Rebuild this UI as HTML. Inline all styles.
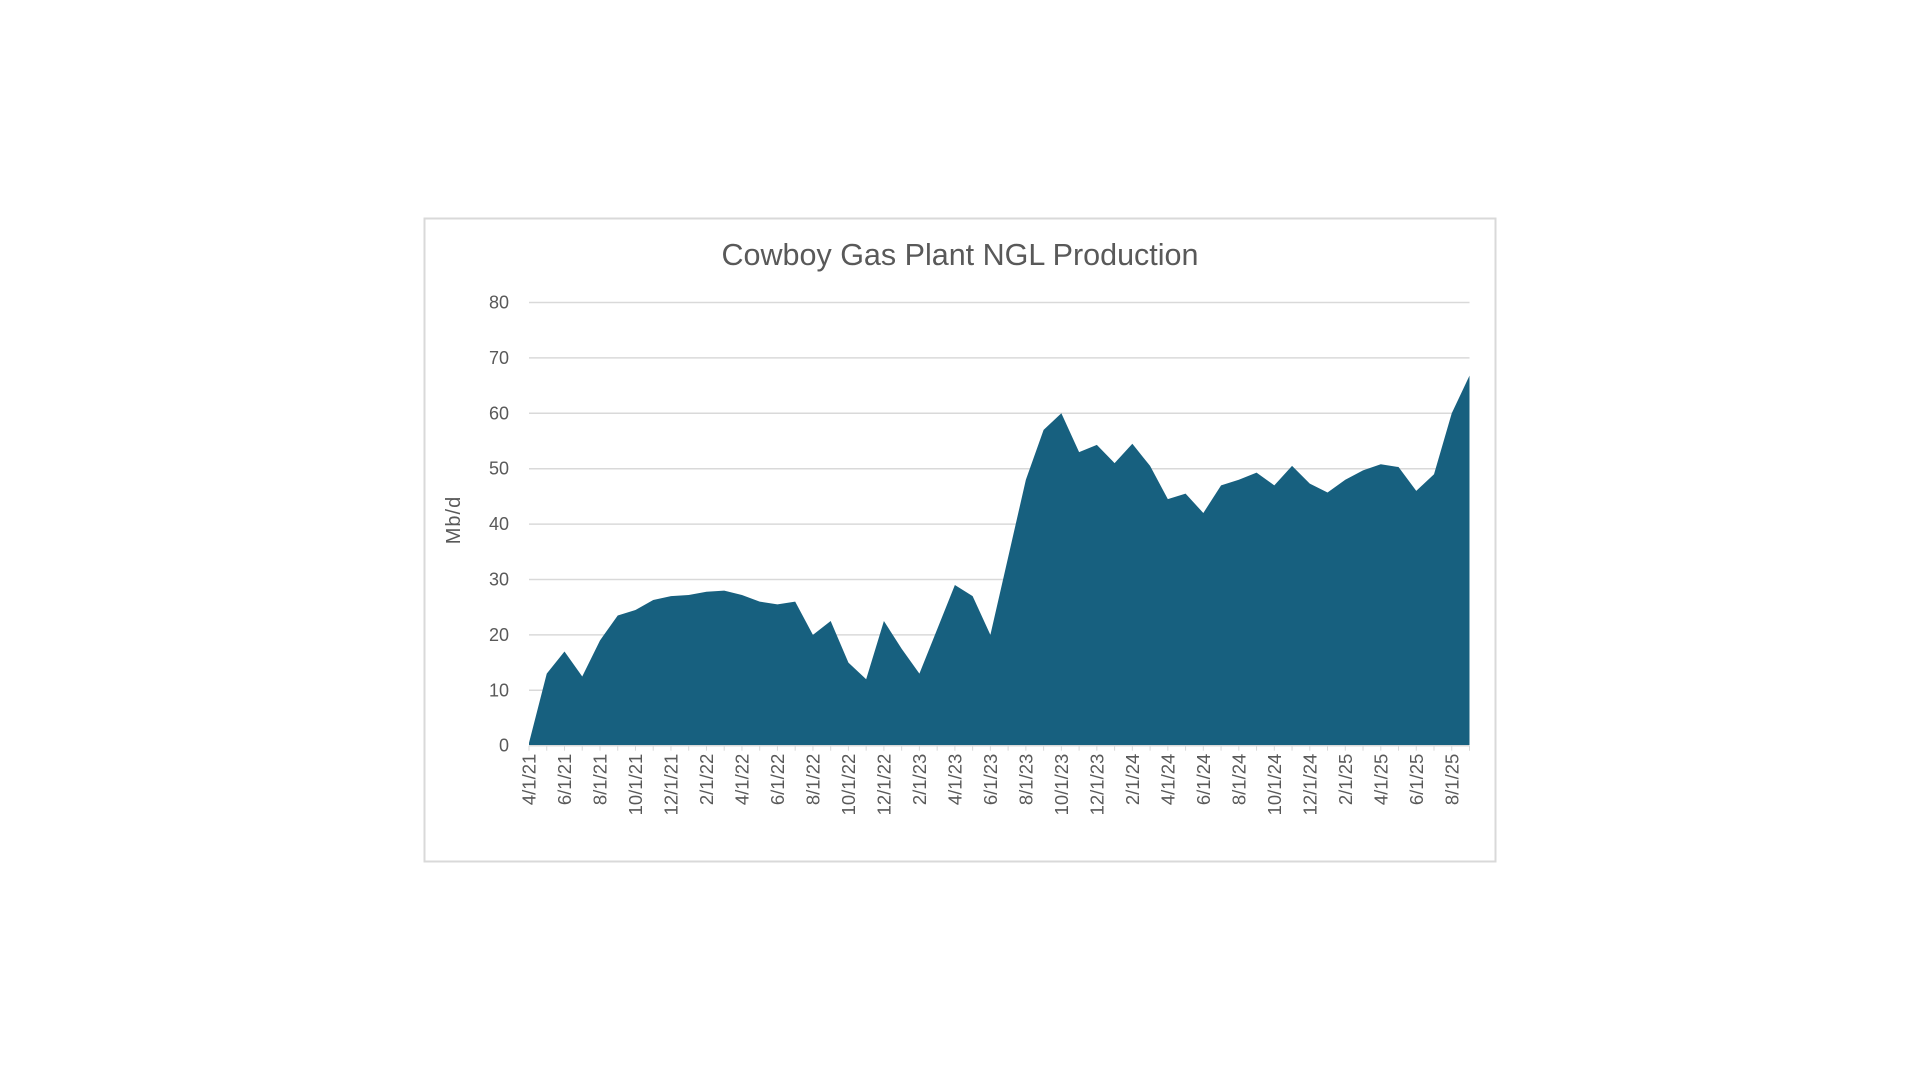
<!DOCTYPE html>
<html><head><meta charset="utf-8"><style>
html,body{margin:0;padding:0;background:#fff;}
svg{display:block;font-family:"Liberation Sans",sans-serif;}
</style></head><body>
<svg id="c" width="1920" height="1080" viewBox="0 0 1920 1080">
<rect x="424.5" y="218.5" width="1071" height="643" fill="#fff" stroke="#d9d9d9" stroke-width="2"/>
<text x="960" y="265" text-anchor="middle" font-size="30.5" fill="#595959">Cowboy Gas Plant NGL Production</text>
<text transform="translate(460,520) rotate(-90)" text-anchor="middle" font-size="20" letter-spacing="1" fill="#595959">Mb/d</text>
<g id="g"></g>
</svg>
<script>
var d=[0.5,13,17,12.5,19,23.5,24.5,26.3,27,27.2,27.8,28,27.2,26,25.5,26,20,22.5,15,12,22.5,17.5,13,21,29,27,20,34,48,57,60,53,54.3,51,54.5,50.5,44.5,45.5,42,47,48,49.3,47,50.5,47.3,45.7,48,49.7,50.8,50.3,46,49,60,66.8];
var x0=529,x1=1469.5,y0=745.7,s=5.54,n=d.length,dx=(x1-x0)/(n-1);
var h='';
for(var v=0;v<=80;v+=10){var y=y0-v*s;
 h+='<line x1="'+x0+'" x2="'+x1+'" y1="'+y+'" y2="'+y+'" stroke="#d9d9d9" stroke-width="1.5"/>';
 h+='<text x="509" y="'+(y+6)+'" text-anchor="end" font-size="18" fill="#595959">'+v+'</text>';}
var p='M'+x0+','+y0;
for(var i=0;i<n;i++)p+=' L'+(x0+i*dx).toFixed(2)+','+(y0-d[i]*s).toFixed(2);
p+=' L'+x1+','+y0+' Z';
h+='<path d="'+p+'" fill="#17607f"/>';
h+='<line x1="'+x0+'" x2="'+x1+'" y1="'+y0+'" y2="'+y0+'" stroke="#d9d9d9" stroke-width="1.5"/>';
for(var i=0;i<n;i++){var x=x0+i*dx;
 h+='<line x1="'+x+'" x2="'+x+'" y1="'+y0+'" y2="'+(y0+5)+'" stroke="#d9d9d9" stroke-width="1"/>';
 if(i%2==0){var m=(3+i)%12+1,yr=21+Math.floor((3+i)/12);
 h+='<text transform="translate('+(x+6.5)+','+(y0+8)+') rotate(-90)" text-anchor="end" font-size="18.5" fill="#595959">'+m+'/1/'+yr+'</text>';}}
document.getElementById('g').innerHTML=h;
</script>
</body></html>
